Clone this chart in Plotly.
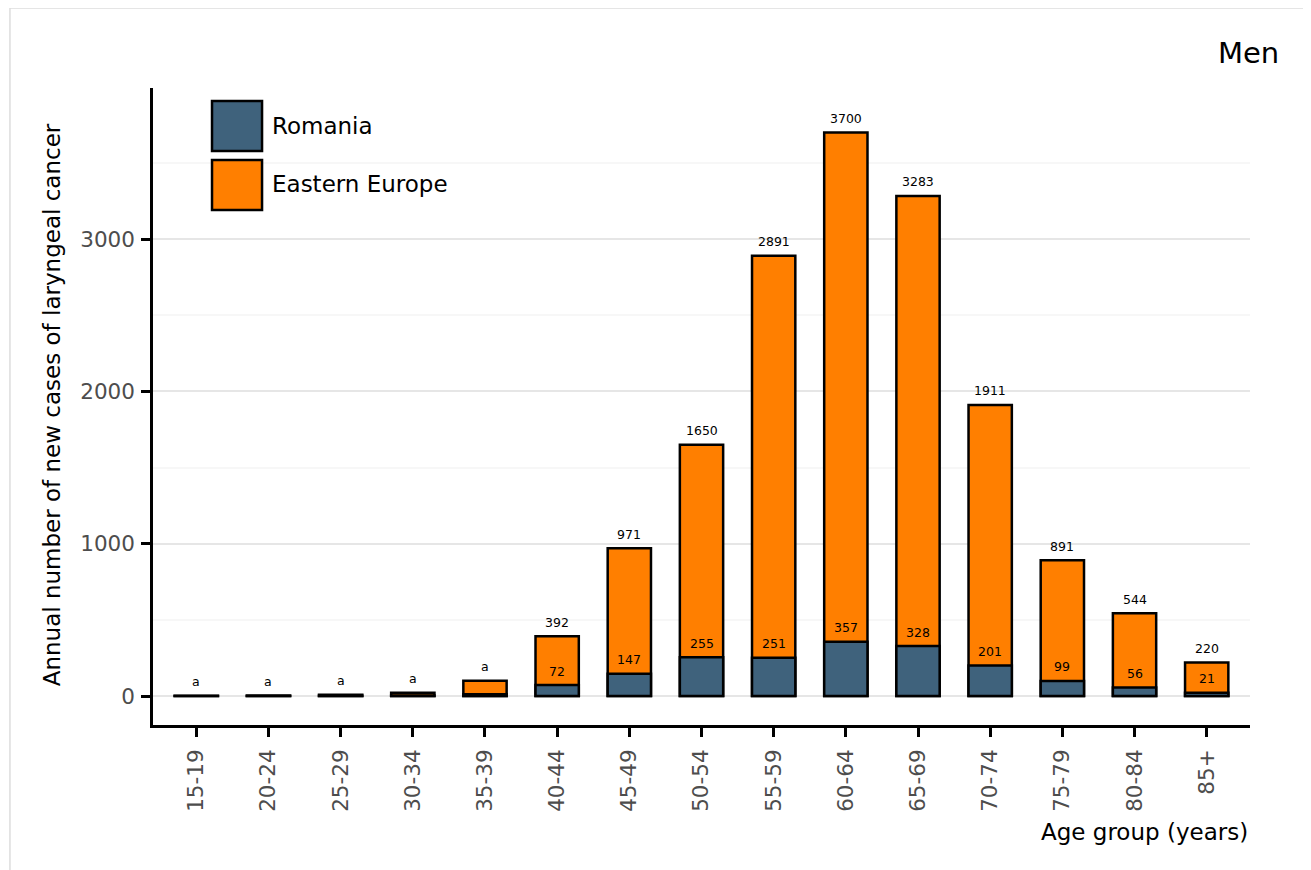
import plotly.graph_objects as go

age_groups = ["15-19", "20-24", "25-29", "30-34", "35-39", "40-44", "45-49", "50-54",
              "55-59", "60-64", "65-69", "70-74", "75-79", "80-84", "85+"]
eastern_europe = [2, 3, 8, 22, 100, 392, 971, 1650, 2891, 3700, 3283, 1911, 891, 544, 220]
romania = [1, 1, 2, 4, 12, 72, 147, 255, 251, 357, 328, 201, 99, 56, 21]
suppressed = [True, True, True, True, True] + [False] * 10

ROM_COLOR = "#3f627c"
EE_COLOR = "#ff7f00"
FONT = "DejaVu Sans"
LABEL_SIZE = 12.5
TITLE_SIZE = 23

fig = go.Figure()
fig.add_trace(go.Bar(x=age_groups, y=eastern_europe, name="Eastern Europe", width=0.6,
                     marker=dict(color=EE_COLOR, line=dict(color="black", width=2.5)),
                     showlegend=False))
fig.add_trace(go.Bar(x=age_groups, y=romania, name="Romania", width=0.6,
                     marker=dict(color=ROM_COLOR, line=dict(color="black", width=2.5)),
                     showlegend=False))

annotations = []
for cat, ee, ro, sup in zip(age_groups, eastern_europe, romania, suppressed):
    if sup:
        annotations.append(dict(x=cat, y=ee, text="a", showarrow=False, yshift=14,
                                font=dict(size=LABEL_SIZE, color="black", family=FONT)))
    else:
        annotations.append(dict(x=cat, y=ee, text=str(ee), showarrow=False, yshift=14,
                                font=dict(size=LABEL_SIZE, color="black", family=FONT)))
        annotations.append(dict(x=cat, y=ro, text=str(ro), showarrow=False, yshift=14,
                                font=dict(size=LABEL_SIZE, color="black", family=FONT)))

# axis titles and panel title
annotations.append(dict(xref="paper", yref="paper", x=-0.092, y=0.502, text="Annual number of new cases of laryngeal cancer",
                        textangle=-90, showarrow=False, xanchor="center", yanchor="middle",
                        font=dict(size=TITLE_SIZE, color="black", family=FONT)))
annotations.append(dict(xref="paper", yref="paper", x=1.0, y=-0.168, text="Age group (years)",
                        showarrow=False, xanchor="right", yanchor="middle",
                        font=dict(size=TITLE_SIZE, color="black", family=FONT)))
annotations.append(dict(xref="paper", yref="paper", x=1.028, y=1.055, text="Men",
                        showarrow=False, xanchor="right", yanchor="middle",
                        font=dict(size=29, color="black", family=FONT)))
# legend texts
annotations.append(dict(xref="paper", yref="paper", x=0.1067, y=0.9403, text="Romania",
                        showarrow=False, xanchor="left", yanchor="middle",
                        font=dict(size=TITLE_SIZE, color="black", family=FONT)))
annotations.append(dict(xref="paper", yref="paper", x=0.1067, y=0.8493, text="Eastern Europe",
                        showarrow=False, xanchor="left", yanchor="middle",
                        font=dict(size=TITLE_SIZE, color="black", family=FONT)))

shapes = [
    dict(type="rect", xref="paper", yref="paper", x0=0.0538, x1=0.0994, y0=0.9011, y1=0.9796,
         fillcolor=ROM_COLOR, line=dict(color="black", width=2.5)),
    dict(type="rect", xref="paper", yref="paper", x0=0.0538, x1=0.0994, y0=0.8085, y1=0.887,
         fillcolor=EE_COLOR, line=dict(color="black", width=2.5)),
    # outer figure frame
    dict(type="line", xref="paper", yref="paper", x0=-0.1304, x1=-0.1304, y0=-0.3, y1=1.1256,
         line=dict(color="#dddddd", width=1.5)),
    dict(type="line", xref="paper", yref="paper", x0=-0.1304, x1=1.07, y0=1.1256, y1=1.1256,
         line=dict(color="#dddddd", width=1.5)),
]

fig.update_layout(
    width=1303, height=862,
    margin=dict(l=145, r=61, t=80, b=145),
    barmode="overlay",
    plot_bgcolor="white", paper_bgcolor="white",
    font=dict(family=FONT, color="#4d4d4d"),
    annotations=annotations, shapes=shapes,
    xaxis=dict(type="category", range=[-0.6, 14.6], showline=True, linecolor="black", linewidth=2.5,
               ticks="outside", ticklen=9, tickwidth=2.5, tickcolor="black", tickangle=-90,
               ticklabelstandoff=4,
               tickfont=dict(size=21.5, color="#4d4d4d", family=FONT), showgrid=False, zeroline=False),
    yaxis=dict(range=[-190, 3992], showline=True, linecolor="black", linewidth=2.5,
               ticks="outside", ticklen=9, tickwidth=2.5, tickcolor="black",
               ticklabelstandoff=2,
               tickvals=[0, 1000, 2000, 3000], tickfont=dict(size=21.5, color="#4d4d4d", family=FONT),
               showgrid=True, gridcolor="#e6e6e6", gridwidth=1.5, zeroline=False,
               minor=dict(tickvals=[500, 1500, 2500, 3500], showgrid=True, gridcolor="#f7f7f7", gridwidth=1.5, ticks="")),
)

fig.write_html("out.html")
